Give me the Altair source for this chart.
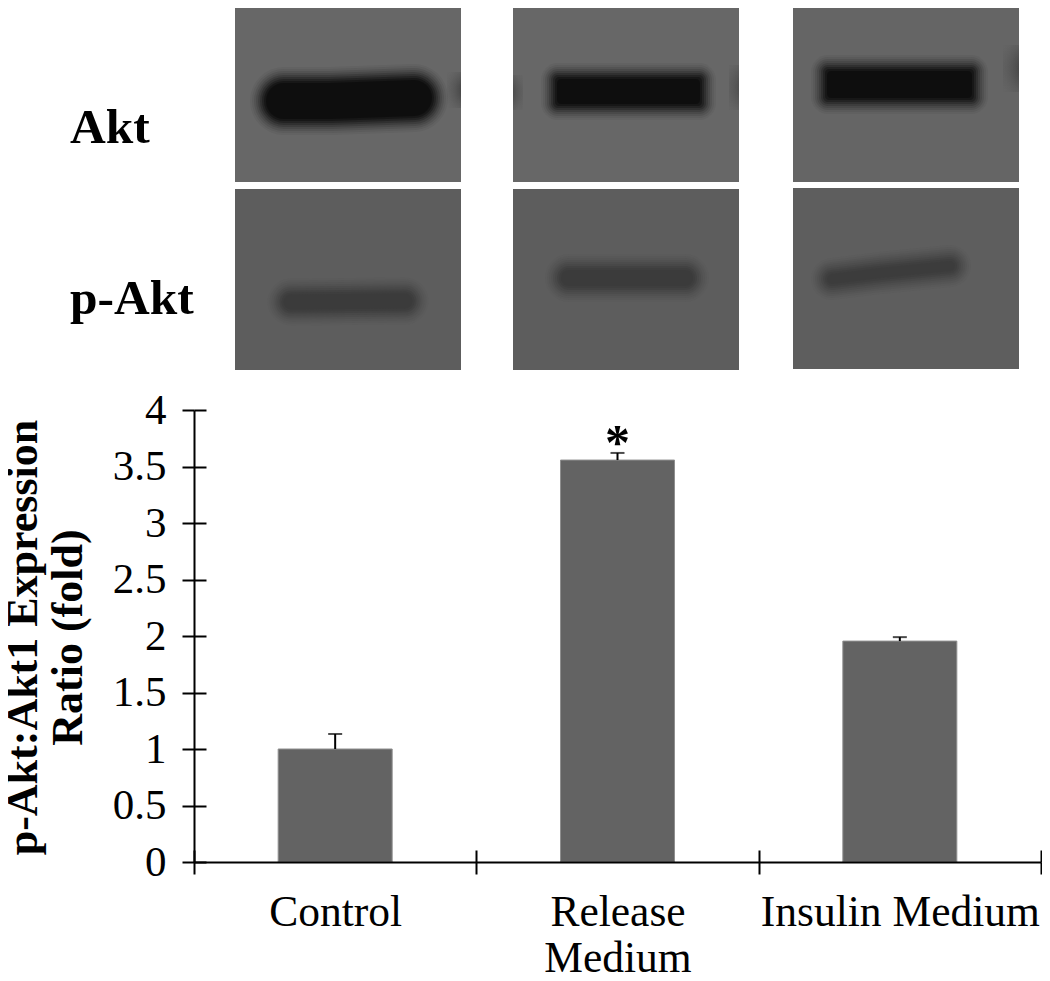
import altair as alt
import pandas as pd

# ---- bar chart values
categories = ["Control", "Release Medium", "Insulin Medium"]
ratio = [1.0, 3.557, 1.955]
err_top = [1.133, 3.62, 1.99]
y_ticks = [0, 0.5, 1, 1.5, 2, 2.5, 3, 3.5, 4]
y_title = ["p-Akt:Akt1 Expression", "Ratio (fold)"]

# ---- blot panels, in the picture's own units
panel_x0 = [235, 513, 793, 235, 513, 793]
panel_x1 = [461, 739, 1019, 461, 739, 1019]
panel_y0 = [1, 1, 1, 189, 189, 188]
panel_y1 = [182, 182, 182, 370, 370, 369]
panel_fill = ["#676767", "#676767", "#656565", "#5d5d5d", "#5d5d5d", "#5e5e5e"]

# soft bands drawn as thick lines
band_id = ["a1", "a1", "a1", "p1", "p1", "p2", "p2", "p3", "p3", "p3"]
band_x = [284, 330, 414, 291, 405, 569, 685, 832, 880, 950]
band_y = [101, 101, 98, 302, 301, 278, 278, 279, 273, 266]
band_w = [46, 46, 46, 25, 25, 26, 26, 20, 20, 20]
band_c = ["#0c0c0c"] * 3 + ["#3a3a3a"] * 4 + ["#3c3c3c"] * 3
# squarer bands drawn as rounded boxes
box_x0 = [552, 822]
box_x1 = [705, 977]
box_y0 = [74, 66]
box_y1 = [109, 103]
blur_delta = [22, 18, 14, 10, 6, 2, -2, -6, -10]
blur_alpha = [0.05, 0.07, 0.10, 0.12, 0.18, 0.25, 0.35, 0.5, 0.7]

spot_x0 = [461 - 14, 513, 739 - 10, 1019 - 16]
spot_x1 = [461, 523, 739, 1019]
spot_y0 = [72, 75, 65, 45]
spot_y1 = [108, 110, 110, 92]
spot_cx = [1, 0, 1, 1]

label_x = [70, 70]
label_y = [128, 299]
label_t = ["Akt", "p-Akt"]

FONT = "Liberation Serif"
W, H = 847, 452
L, T = 194, 410

bars = pd.DataFrame({"cat": categories, "v": ratio, "top": err_top})
panels = pd.DataFrame({"x0": panel_x0, "x1": panel_x1, "y0": panel_y0, "y1": panel_y1, "f": panel_fill})
bands = pd.DataFrame({"b": band_id, "x": band_x, "y": band_y, "w": band_w, "c": band_c})
boxes = pd.DataFrame({"x0": box_x0, "x1": box_x1, "y0": box_y0, "y1": box_y1})
labels = pd.DataFrame({"x": label_x, "y": label_y, "t": label_t})
star = pd.DataFrame({"cat": ["Release Medium"], "top": [err_top[1]], "t": ["*"]})

px = alt.Scale(domain=[L, L + W])
py = alt.Scale(domain=[T + H, T])
xs = alt.Scale(domain=categories, padding=0)
ys = alt.Scale(domain=[0, 4])

layers = []
layers.append(
    alt.Chart(panels).mark_rect().encode(
        x=alt.X("x0:Q", scale=px, axis=None), x2="x1:Q",
        y=alt.Y("y0:Q", scale=py, axis=None), y2="y1:Q",
        fill=alt.Fill("f:N", scale=None),
    )
)
for d, a in zip(blur_delta, blur_alpha):
    layers.append(
        alt.Chart(bands).transform_calculate(sw=f"datum.w + ({d})")
        .mark_line(strokeCap="round", strokeJoin="round", opacity=a)
        .encode(
            x=alt.X("x:Q", scale=px, axis=None),
            y=alt.Y("y:Q", scale=py, axis=None),
            detail="b:N",
            color=alt.Color("c:N", scale=None),
            strokeWidth=alt.StrokeWidth("sw:Q", scale=None),
        )
    )
    layers.append(
        alt.Chart(boxes).transform_calculate(
            a=f"datum.x0 - ({d}) / 2", b=f"datum.x1 + ({d}) / 2",
            c=f"datum.y0 - ({d}) / 2", e=f"datum.y1 + ({d}) / 2",
        )
        .mark_rect(cornerRadius=max(4, 6 + d / 2), opacity=a, color="#0c0c0c")
        .encode(
            x=alt.X("a:Q", scale=px, axis=None), x2="b:Q",
            y=alt.Y("c:Q", scale=py, axis=None), y2="e:Q",
        )
    )
for x0, x1, y0, y1, cx in zip(spot_x0, spot_x1, spot_y0, spot_y1, spot_cx):
    grad = alt.RadialGradient(
        gradient="radial", x1=cx, y1=0.5, x2=cx, y2=0.5, r1=0, r2=0.9,
        stops=[alt.GradientStop(color="#222222", offset=0),
               alt.GradientStop(color="rgba(100,100,100,0)", offset=1)],
    )
    layers.append(
        alt.Chart(pd.DataFrame({"a": [x0], "b": [x1], "c": [y0], "d": [y1]}))
        .mark_rect(fill=grad)
        .encode(
            x=alt.X("a:Q", scale=px, axis=None), x2="b:Q",
            y=alt.Y("c:Q", scale=py, axis=None), y2="d:Q",
        )
    )
layers.append(
    alt.Chart(labels).mark_text(font=FONT, fontWeight="bold", fontSize=49.5, align="left", color="#000")
    .encode(
        x=alt.X("x:Q", scale=px, axis=None),
        y=alt.Y("y:Q", scale=py, axis=None),
        text="t:N",
    )
)

# bars with the main axes
layers.append(
    alt.Chart(bars).mark_bar(color="#636363", stroke="#8f8f8f", strokeWidth=1, width=114).encode(
        x=alt.X("cat:N", scale=xs, sort=None, axis=alt.Axis(
            orient="bottom", title=None, labelAngle=0, labelFont=FONT, labelFontSize=43.5, labelColor="#000",
            labelPadding=17, labelLimit=400, labelLineHeight=46, labelBaseline="top",
            labelExpr="datum.label == 'Release Medium' ? ['Release', 'Medium'] : datum.label",
            tickBand="extent", tickSize=12, tickWidth=2, tickColor="#000",
            domainColor="#000", domainWidth=2, zindex=1, grid=False)),
        y=alt.Y("v:Q", scale=ys, axis=alt.Axis(
            orient="left", values=y_ticks, labelExpr="'' + datum.value", title=y_title,
            titleFont=FONT, titleFontSize=44, titleFontWeight="bold", titleColor="#000",
            titleLineHeight=45, titlePadding=22, titleY=227,
            labelFont=FONT, labelFontSize=43, labelColor="#000", labelPadding=16,
            tickSize=12, tickWidth=2, tickColor="#000",
            domainColor="#000", domainWidth=2, zindex=1, grid=False)),
    )
)
# error bars; their axes supply the inner half of every tick
layers.append(
    alt.Chart(bars).mark_rule(color="#000", strokeWidth=2).encode(
        x=alt.X("cat:N", scale=xs, sort=None, axis=alt.Axis(
            orient="bottom", title=None, labels=False, domain=False, offset=-12, tickBand="extent",
            tickSize=12, tickWidth=2, tickColor="#000", zindex=1, grid=False)),
        y=alt.Y("v:Q", scale=ys, axis=alt.Axis(
            orient="left", title=None, labels=False, domain=False, offset=-12, values=y_ticks,
            tickSize=12, tickWidth=2, tickColor="#000", zindex=1, grid=False)),
        y2="top:Q",
    )
)
layers.append(
    alt.Chart(bars).mark_tick(color="#000", size=14, thickness=2, orient="horizontal").encode(
        x=alt.X("cat:N", scale=xs, sort=None, axis=None),
        y=alt.Y("top:Q", scale=ys, axis=None),
    )
)
layers.append(
    alt.Chart(star).mark_text(font=FONT, fontWeight="bold", fontSize=50, color="#000", baseline="alphabetic", dy=6)
    .encode(
        x=alt.X("cat:N", scale=xs, sort=None, axis=None),
        y=alt.Y("top:Q", scale=ys, axis=None),
        text="t:N",
    )
)

chart = (
    alt.layer(*layers)
    .resolve_scale(x="independent", y="independent")
    .properties(
        width=W, height=H,
        autosize=alt.AutoSizeParams(type="none"),
        padding={"left": L - 8, "top": T - 8, "right": 1, "bottom": 117},
        background="white",
    )
    .configure_view(stroke=None)
)
chart.save("out.html", embed_options={"renderer": "svg", "actions": False})
